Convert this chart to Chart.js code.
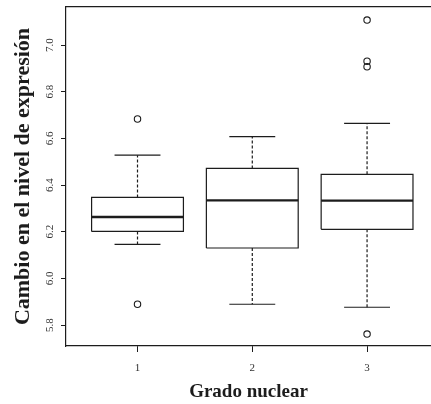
<!DOCTYPE html>
<html><head><meta charset="utf-8">
<script src="https://cdn.jsdelivr.net/npm/chart.js@4/dist/chart.umd.min.js"></script>
<style>html,body{margin:0;padding:0;background:#fff;overflow:hidden}#wrap{position:relative;width:431px;height:404px}</style>
</head><body><div id="wrap"><canvas id="c"></canvas></div>
<script>
// ---- data ----
const grades = [1, 2, 3];
const gradeLabels = ['1', '2', '3'];
const lowerWhisker = [6.146, 5.889, 5.876];
const q1 = [6.201, 6.130, 6.210];
const median = [6.263, 6.334, 6.333];
const q3 = [6.347, 6.471, 6.446];
const upperWhisker = [6.528, 6.607, 6.664];
const outliers1 = [6.683, 5.889];
const outliers2 = [];
const outliers3 = [7.107, 6.931, 6.907, 5.761];
const yTicks = [5.8, 6.0, 6.2, 6.4, 6.6, 6.8, 7.0];
const xTitle = 'Grado nuclear';
const yTitle = 'Cambio en el nivel de expresión';

// ---- styling ----
const FAM = "'Liberation Serif', 'DejaVu Serif', serif";
const INK = '#1c1c1c';
const BOX_HALF = 0.4, CAP_HALF = 0.2;

function seg(points, extra) {
  return Object.assign({
    type: 'scatter', showLine: true, data: points, borderColor: INK, borderWidth: 1.2,
    pointRadius: 0, pointHoverRadius: 0, fill: false, tension: 0
  }, extra || {});
}

const outlierSets = [outliers1, outliers2, outliers3];
const datasets = [];
grades.forEach((g, i) => {
  datasets.push(seg([
    {x: g - BOX_HALF, y: q1[i]}, {x: g + BOX_HALF, y: q1[i]},
    {x: g + BOX_HALF, y: q3[i]}, {x: g - BOX_HALF, y: q3[i]},
    {x: g - BOX_HALF, y: q1[i]}
  ], {borderJoinStyle: 'miter'}));
  datasets.push(seg([{x: g - BOX_HALF, y: median[i]}, {x: g + BOX_HALF, y: median[i]}], {borderWidth: 2.4}));
  datasets.push(seg([{x: g, y: q3[i]}, {x: g, y: upperWhisker[i]}], {borderDash: [3, 2]}));
  datasets.push(seg([{x: g, y: q1[i]}, {x: g, y: lowerWhisker[i]}], {borderDash: [3, 2]}));
  datasets.push(seg([{x: g - CAP_HALF, y: upperWhisker[i]}, {x: g + CAP_HALF, y: upperWhisker[i]}]));
  datasets.push(seg([{x: g - CAP_HALF, y: lowerWhisker[i]}, {x: g + CAP_HALF, y: lowerWhisker[i]}]));
  datasets.push({
    type: 'scatter', data: outlierSets[i].map(v => ({x: g, y: v})),
    pointStyle: 'circle', pointRadius: 3.2, pointHoverRadius: 3.2, pointBorderWidth: 1.1,
    pointBorderColor: INK, pointBackgroundColor: 'rgba(0,0,0,0)', showLine: false
  });
});

function noPad(s) { s.paddingLeft = 0; s.paddingRight = 0; s.paddingTop = 0; s.paddingBottom = 0; }

new Chart(document.getElementById('c'), {
  type: 'scatter',
  data: {datasets},
  options: {
    responsive: true, maintainAspectRatio: false, animation: false,
    events: [],
    layout: {padding: 0, autoPadding: false},
    plugins: {legend: {display: false}, tooltip: {enabled: false}},
    scales: {
      x: {
        type: 'linear', position: 'bottom', min: 0.377, max: 3.557,
        afterBuildTicks: s => { s.ticks = grades.map(v => ({value: v})); },
        afterFit: s => { s.height = 58; noPad(s); },
        grid: {display: true, drawOnChartArea: false, drawTicks: true, tickLength: 6, tickColor: INK, tickWidth: 1},
        border: {display: true, color: INK, width: 1.2},
        ticks: {minRotation: 0, maxRotation: 0, padding: 9.4, color: '#333',
          font: {family: FAM, size: 11}, callback: (v, i) => gradeLabels[i]},
        title: {display: true, text: xTitle, color: INK,
          font: {family: FAM, size: 19, weight: 'bold'}, padding: {top: 0, bottom: 0.6}}
      },
      x2: {
        type: 'linear', position: 'top', min: 0.377, max: 3.557,
        afterFit: s => { s.height = 7; noPad(s); },
        grid: {display: false}, ticks: {display: false},
        border: {display: true, color: INK, width: 1.2}
      },
      y: {
        type: 'linear', position: 'left', min: 5.71, max: 7.163,
        afterBuildTicks: s => { s.ticks = yTicks.map(v => ({value: v})); },
        afterFit: s => { s.width = 66; noPad(s); },
        grid: {display: true, drawOnChartArea: false, drawTicks: true, tickLength: 5, tickColor: INK, tickWidth: 1},
        border: {display: true, color: INK, width: 1.2},
        ticks: {minRotation: 90, maxRotation: 90, crossAlign: 'center', padding: 4.5, color: '#333',
          font: {family: FAM, size: 11}, callback: v => Number(v).toFixed(1)},
        title: {display: true, text: yTitle, color: INK,
          font: {family: FAM, size: 22, weight: 'bold'}, padding: {top: 10.5, bottom: 0}}
      }
    }
  }
});
</script>
</body></html>
